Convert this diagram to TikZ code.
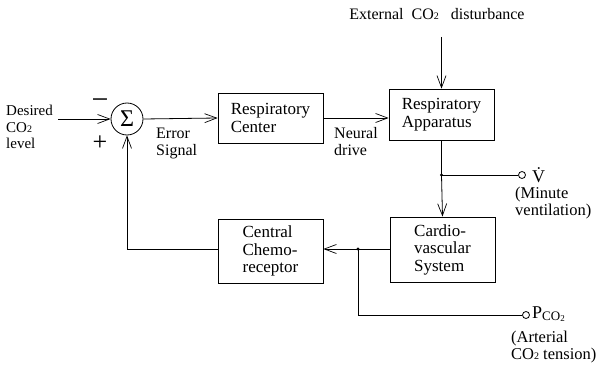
\documentclass[tikz,border=0pt]{standalone}
\usepackage{fontspec}
\setmainfont{Liberation Serif}
\usetikzlibrary{arrows.meta}
\newcommand{\COtwo}{CO{\fontsize{10}{10}\selectfont 2}}
\begin{document}
\begin{tikzpicture}[x=1pt,y=-1pt,
  lw/.style={line width=0.8pt},
  arr/.style={lw,-{Straight Barb[length=12pt,width=9pt,line width=0.7pt]}},
  blk/.style={draw,lw,minimum width=105pt,align=left,inner sep=0pt,
    font=\fontsize{17}{17.5}\selectfont},
  lbl/.style={align=left,inner sep=0pt,font=\fontsize{15}{16.5}\selectfont},
  jdot/.style={circle,fill,inner sep=0pt,minimum size=3.2pt},
  outc/.style={circle,draw,lw,fill=white,inner sep=0pt,minimum size=7pt}]
\useasboundingbox (0,0) rectangle (606,369);
% blocks
\node[blk,minimum height=50pt] (rc) at (270.5,118) {Respiratory\\Center};
\node[blk,minimum height=51pt] (ra) at (441.5,114.5) {Respiratory\\Apparatus};
\node[blk,minimum height=65pt] (cv) at (442.5,249.5) {Cardio-\\vascular\\System};
\node[blk,minimum height=64pt] (cc) at (270.5,251) {Central\\Chemo-\\receptor};
% summing junction
\node[circle,draw,lw,minimum size=32pt,inner sep=0pt,font=\fontsize{24}{24}\selectfont] (s) at (127,119) {Σ};
\node[inner sep=0pt,font=\fontsize{30}{30}\selectfont] (minus) at (100,104) {−};
\node[inner sep=0pt,font=\fontsize{26}{26}\selectfont] (plus) at (100,143) {+};
% labels
\node[lbl,anchor=west] (des) at (6,127) {Desired\\\COtwo\\level};
\node[lbl,anchor=north west,font=\fontsize{16}{17}\selectfont] (err) at (156,128) {Error\\Signal};
\node[lbl,anchor=north west,font=\fontsize{16}{17}\selectfont] (neu) at (334,127) {Neural\\drive};
\node[lbl,anchor=center,font=\fontsize{16}{17}\selectfont] (ext) at (437,14) {External\ \ \COtwo\ \ \ disturbance};
\node[lbl,anchor=west,font=\fontsize{18}{18}\selectfont] (vdot) at (532,175) {\.{V}};
\node[lbl,anchor=west,font=\fontsize{16.5}{17}\selectfont] (vlab) at (515,203) {(Minute\\ ventilation)};
\node[lbl,anchor=west] (pco) at (532,314) {{\fontsize{18}{18}\selectfont P}{\fontsize{13}{13}\selectfont\raisebox{-2pt}{CO}\raisebox{-3pt}{\fontsize{9}{9}\selectfont 2}}};
\node[lbl,anchor=west,font=\fontsize{16.5}{17}\selectfont] (plab) at (511,347) {(Arterial\\\COtwo\ tension)};
% coordinates
\coordinate (din) at (58,119);
\coordinate (etop) at (ra.north |- 0,37);
\coordinate (j1) at (ra.south |- 0,175);
\coordinate (j2) at (358,249);
\coordinate (j3) at (358,315);
\node[outc] (vo) at (522,175) {};
\node[outc] (po) at (526,315) {};
% connectors
\draw[arr] (din) -- (s.west);
\draw[arr] (s.east) -- (rc.west);
\draw[arr] (rc.east) -- (rc.east -| ra.west);
\draw[arr] (etop) -- (ra.north);
\draw[lw] (ra.south) -- (j1);
\draw[arr] (j1) -- (cv.north);
\draw[lw] (j1) -- (vo.west);
\draw[lw] (cv.west |- j2) -- (j2);
\draw[arr] (j2) -- (j2 -| cc.east);
\draw[lw] (j2) -- (j3) -- (po.west);
\draw[arr] (cc.west |- j2) -- (s.south |- j2) -- (s.south);
\node[jdot] at (j1) {};
\node[jdot] at (j2) {};
\end{tikzpicture}
\end{document}
